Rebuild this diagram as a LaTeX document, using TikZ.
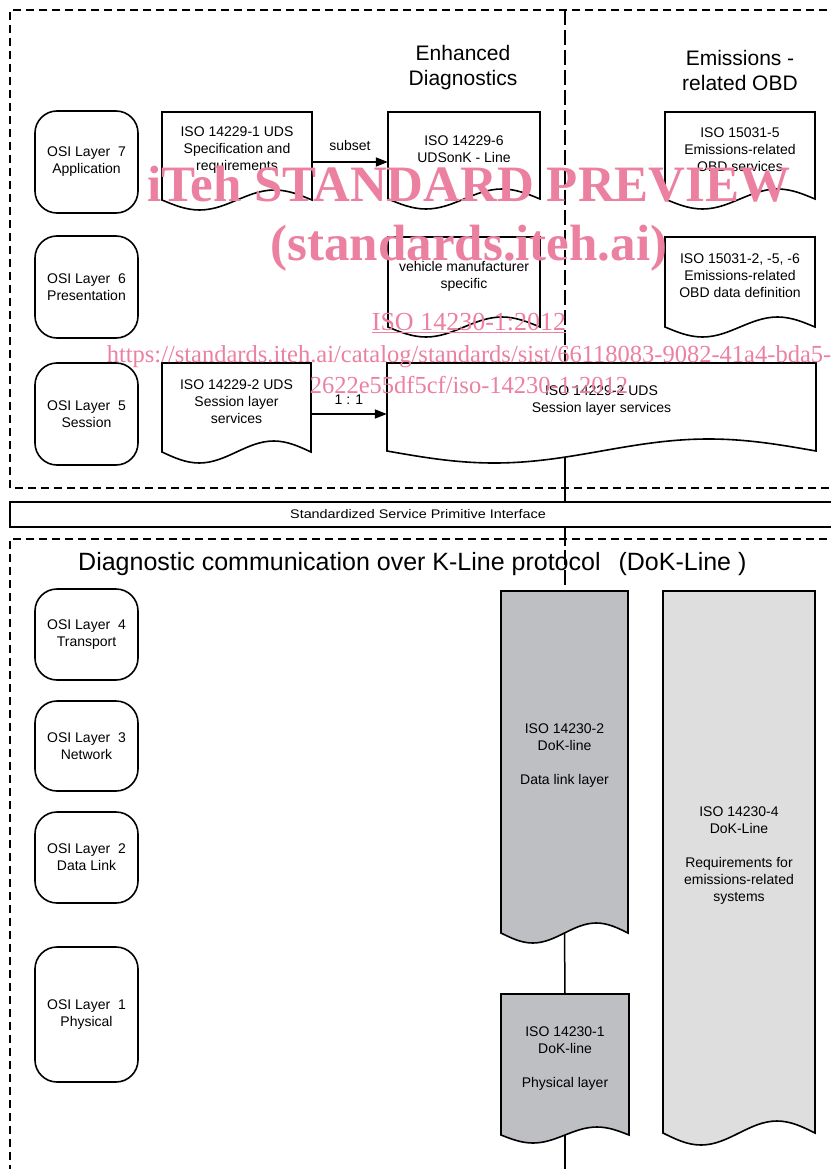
\documentclass[tikz,border=0pt]{standalone}
\usepackage{fontspec}
\setmainfont{Liberation Sans}
\newfontfamily\wmfont{Liberation Serif}
\newfontfamily\widesans[FakeStretch=1.15]{Liberation Sans}
\usetikzlibrary{arrows.meta}
\definecolor{dlgray}{RGB}{190,191,195}
\definecolor{emgray}{RGB}{222,222,222}
\definecolor{wmpink}{RGB}{236,128,160}
\pgfdeclarelayer{bg}
\pgfsetlayers{bg,main}
\tikzset{
  frameline/.style={line width=1.3pt, dash pattern=on 8pt off 5pt},
  midline/.style={line width=1.3pt, dash pattern=on 15pt off 5pt},
  conn/.style={line width=1.5pt},
  docline/.style={line width=1.6pt, line join=miter},
  docanchor/.style={draw=none, inner sep=0pt, rectangle},
  doctext/.style={font=\fontsize{14}{17}\selectfont, align=center, inner sep=0pt},
  osi/.style={draw, line width=1.6pt, rounded corners=22pt, minimum width=103pt, align=center, font=\fontsize{14}{17}\selectfont, inner sep=0pt},
  arr/.style={line width=1.8pt, -{Triangle[length=12pt,width=9pt]}},
  arrlabel/.style={font=\fontsize{14}{17}\selectfont, inner sep=2pt},
  hdr/.style={font=\fontsize{21}{25}\selectfont, align=center, inner sep=0pt},
  wmbig/.style={font=\wmfont\bfseries\fontsize{51}{51}\selectfont, text=wmpink, inner sep=0pt},
  wmsmall/.style={font=\wmfont\fontsize{24.5}{25}\selectfont, text=wmpink, inner sep=0pt},
}
% #1 name, #2 fill, #3 x0, #4 y0, #5 x1, #6 yb, #7 amplitude, #8 text
\newcommand\docnode[8]{%
  \filldraw[docline, fill=#2] (#3,#4) -- (#5,#4) -- (#5,#6)
    sin ({#5-(#5-#3)/4},{#6-#7}) cos ({(#3+#5)/2},#6)
    sin ({#3+(#5-#3)/4},{#6+#7}) cos (#3,#6) -- cycle;
  \node[docanchor, minimum width={(#5-#3)*1pt}, minimum height={(#6-#4)*1pt}]
    (#1) at ({(#3+#5)/2},{(#4+#6)/2}) {};
  \node[doctext] (#1t) at ([yshift=6pt]#1.center) {#8};
}
\begin{document}
\begin{tikzpicture}[x=1pt,y=-1pt]
\useasboundingbox (0,0) rectangle (830,1169);

% OSI layers
\node[osi, minimum height=102pt] (l7) at (86.5,162) {OSI Layer~~7\\Application};
\node[osi, minimum height=102pt] (l6) at (86.5,287) {OSI Layer~~6\\Presentation};
\node[osi, minimum height=102pt] (l5) at (86.5,414) {OSI Layer~~5\\Session};
\node[osi, minimum height=91pt] (l4) at (86.5,634.5) {OSI Layer~~4\\Transport};
\node[osi, minimum height=90pt] (l3) at (86.5,746) {OSI Layer~~3\\Network};
\node[osi, minimum height=91pt] (l2) at (86.5,857.5) {OSI Layer~~2\\Data Link};
\node[osi, minimum height=135pt] (l1) at (86.5,1014.5) {OSI Layer~~1\\Physical};

% headers
\node[hdr] (h1) at (463,68) {Enhanced\\Diagnostics};
\node[hdr] (h2) at (740,70) {Emissions -\\related OBD};
\node[font=\fontsize{25}{30}\selectfont, anchor=base west, inner sep=0pt] (title) at (78,570)
  {Diagnostic communication over K-Line protocol\hspace{18pt}(DoK-Line )};

% documents
\docnode{d1}{white}{162}{112}{312}{200}{10}{ISO 14229-1 UDS\\Specification and\\requirements}
\docnode{d2}{white}{388}{112}{540}{199}{10}{ISO 14229-6\\UDSonK - Line}
\docnode{d3}{white}{665}{112}{815}{199}{10}{ISO 15031-5\\Emissions-related\\OBD services}
\docnode{d4}{white}{388}{237}{540}{327}{10}{vehicle manufacturer\\specific}
\docnode{d5}{white}{665}{237}{815}{327}{10}{ISO 15031-2, -5, -6\\Emissions-related\\OBD data definition}
\docnode{d6}{white}{162}{363}{311}{452}{11}{ISO 14229-2 UDS\\Session layer\\services}
\docnode{d7}{white}{387}{363}{816}{451}{12}{ISO 14229-2 UDS\\Session layer services}
\docnode{dl}{dlgray}{501}{591}{628}{933}{10}{ISO 14230-2\\DoK-line\\[17pt]Data link layer}
\docnode{ph}{dlgray}{501}{994}{629}{1135}{8}{ISO 14230-1\\DoK-line\\[17pt]Physical layer}
\docnode{em}{emgray}{663}{591}{815}{1133}{12}{ISO 14230-4\\DoK-Line\\[17pt]Requirements for\\emissions-related\\systems}

% interface
\node[draw, fill=white, line width=1.3pt, minimum width=830pt, minimum height=25pt, inner sep=0pt,
      font=\widesans\fontsize{12.5}{15}\selectfont] (sspi) at (425,514.5)
  {\hspace*{-14pt}Standardized Service Primitive Interface};

% arrows
\draw[arr] ([yshift=-6pt]d1.east) -- ([yshift=-6pt]d1.east -| d2.west)
  node[arrlabel, midway, above=8pt] {subset};
\draw[arr] ([yshift=-6.5pt]d6.east) -- ([yshift=-6.5pt]d6.east -| d7.west)
  node[arrlabel, midway, above=7pt] {1 : 1};

% background: frames, vertical line and connectors
\begin{pgfonlayer}{bg}
  \draw[frameline] (840,10) -- (10,10) -- (10,488) -- (840,488);
  \draw[frameline] (840,539) -- (10,539) -- (10,1180);
  \coordinate (vtop) at (565,10);
  \coordinate (vbot) at (565,1169);
  \draw[midline] (vtop) -- (vtop |- dl.north);
  \draw[conn] (vtop |- d7.south) -- (vtop |- sspi.north);
  \draw[conn] (vtop |- sspi.south) -- ++(0,18);
  \draw[conn] (dl.south) -- (ph.north);
  \draw[conn] (ph.south) -- (vbot);
\end{pgfonlayer}

% watermark
\node[wmbig, anchor=base] (wm1) at (469,201) {iTeh STANDARD PREVIEW};
\node[wmbig, anchor=base] (wm2) at (469,260) {(standards.iteh.ai)};
\node[wmsmall, font=\wmfont\fontsize{26}{27}\selectfont, anchor=base] (wm3) at (469,330) {\underline{ISO 14230-1:2012}};
\node[wmsmall, anchor=base] (wm4) at (469,362) {https://standards.iteh.ai/catalog/standards/sist/66118083-9082-41a4-bda5-};
\node[wmsmall, anchor=base] (wm5) at (469,393) {2622e55df5cf/iso-14230-1-2012};
\end{tikzpicture}
\end{document}
